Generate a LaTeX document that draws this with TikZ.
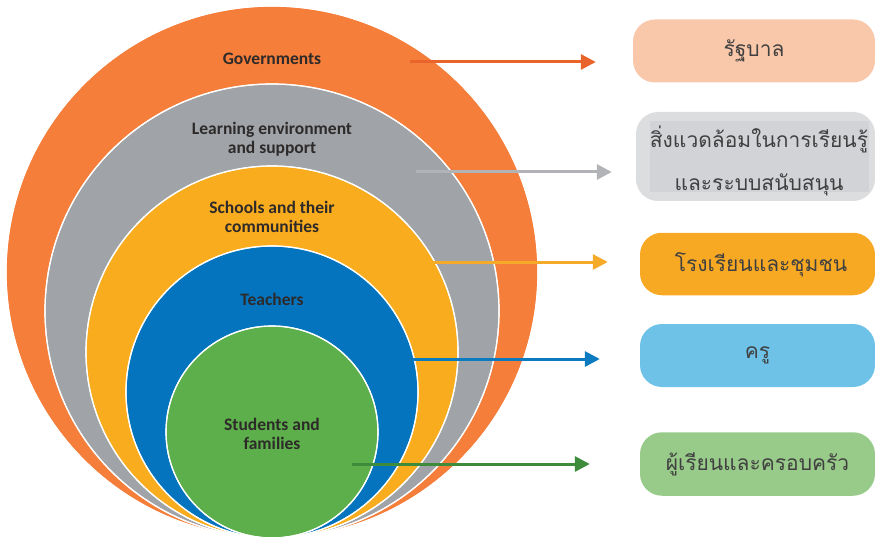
\documentclass[tikz,border=0pt]{standalone}
\usepackage{fontspec}
\setmainfont{Carlito}
\newfontfamily\thaifont[Script=Thai]{Loma}
\usetikzlibrary{arrows.meta}

\definecolor{govorange}{HTML}{F47E3A}
\definecolor{envgray}{HTML}{A0A4A8}
\definecolor{schoolyellow}{HTML}{F9AC1E}
\definecolor{teachblue}{HTML}{0574BE}
\definecolor{studgreen}{HTML}{5CAF4A}
\definecolor{lbltext}{HTML}{2E2A2A}
\definecolor{govbox}{HTML}{F9C7A9}
\definecolor{envbox}{HTML}{DCDDDF}
\definecolor{envinner}{HTML}{D1D3D6}
\definecolor{schoolbox}{HTML}{F8A923}
\definecolor{teachbox}{HTML}{6EC2E7}
\definecolor{studbox}{HTML}{98CB8A}
\definecolor{govarrow}{HTML}{E8642B}
\definecolor{envarrow}{HTML}{B1B3B7}
\definecolor{schoolarrow}{HTML}{F6AA2A}
\definecolor{teacharrow}{HTML}{0B7ABF}
\definecolor{studarrow}{HTML}{3E8B3C}

\tikzset{
  ring/.style={draw=white, line width=1.2pt},
  lbl/.style={text=lbltext, font=\fontsize{17.5}{19}\selectfont\bfseries, align=center},
  thbox/.style={rounded corners=22pt, inner sep=0pt},
  thtext/.style={text=black!75, font=\thaifont\fontsize{21}{25}\selectfont, align=center},
  arr/.style={line width=3pt, -{Triangle[length=15pt,width=15pt]}}
}

\begin{document}
\begin{tikzpicture}[x=1pt,y=-1pt]
\useasboundingbox (0,0) rectangle (875,540);

% nested rings, all touching at the bottom
\fill[ring, fill=govorange] (272,272) circle (266);
\fill[ring, fill=envgray] (272,311) circle (227);
\fill[ring, fill=schoolyellow] (272,352) circle (186);
\fill[ring, fill=teachblue] (272,392) circle (146);
\fill[ring, fill=studgreen] (272,432) circle (106);
\draw[ring] (272,272) circle (266);
\draw[ring] (272,311) circle (227);
\draw[ring] (272,352) circle (186);
\draw[ring] (272,392) circle (146);
\draw[ring] (272,432) circle (106);

\node[lbl] (govlbl) at (272,59) {Governments};
\node[lbl] (envlbl) at (272,139) {Learning environment\\and support};
\node[lbl] (schoollbl) at (272,217) {Schools and their\\communities};
\node[lbl] (teachlbl) at (272,299) {Teachers};
\node[lbl] (studlbl) at (272,434) {Students and\\families};

% Thai boxes
\node[thbox, fill=govbox, minimum width=242pt, minimum height=63pt] (govbox) at (754,51) {};
\node[thbox, fill=envbox, minimum width=239pt, minimum height=89pt] (envbox) at (755.5,156.5) {};
\fill[envinner] (650,121) rectangle (869,192);
\node[thbox, fill=schoolbox, minimum width=235pt, minimum height=62.5pt] (schoolbox) at (757.5,264) {};
\node[thbox, fill=teachbox, minimum width=235pt, minimum height=63pt] (teachbox) at (757.5,355.5) {};
\node[thbox, fill=studbox, minimum width=235pt, minimum height=63.5pt] (studbox) at (757.5,464) {};

\node[thtext] (govth) at (govbox) {รัฐบาล};
\node[thtext] (envth) at (759,161) {สิ่งแวดล้อมในการเรียนรู้\\[18pt]และระบบสนับสนุน};
\node[thtext] (schoolth) at (761,265) {โรงเรียนและชุมชน};
\node[thtext] (teachth) at (teachbox) {ครู};
\node[thtext] (studth) at (studbox) {ผู้เรียนและครอบครัว};

% arrows
\coordinate (govstart) at (410,62);
\coordinate (envstart) at (416,172);
\coordinate (schoolstart) at (433,262);
\coordinate (teachstart) at (413,359);
\coordinate (studstart) at (352,464);
\draw[arr, govarrow, shorten >=37pt] (govstart) -- (govbox.west |- govstart);
\draw[arr, envarrow, shorten >=24pt] (envstart) -- (envbox.west |- envstart);
\draw[arr, schoolarrow, shorten >=32pt] (schoolstart) -- (schoolbox.west |- schoolstart);
\draw[arr, teacharrow, shorten >=40pt] (teachstart) -- (teachbox.west |- teachstart);
\draw[arr, studarrow, shorten >=50pt] (studstart) -- (studbox.west |- studstart);
\end{tikzpicture}
\end{document}
